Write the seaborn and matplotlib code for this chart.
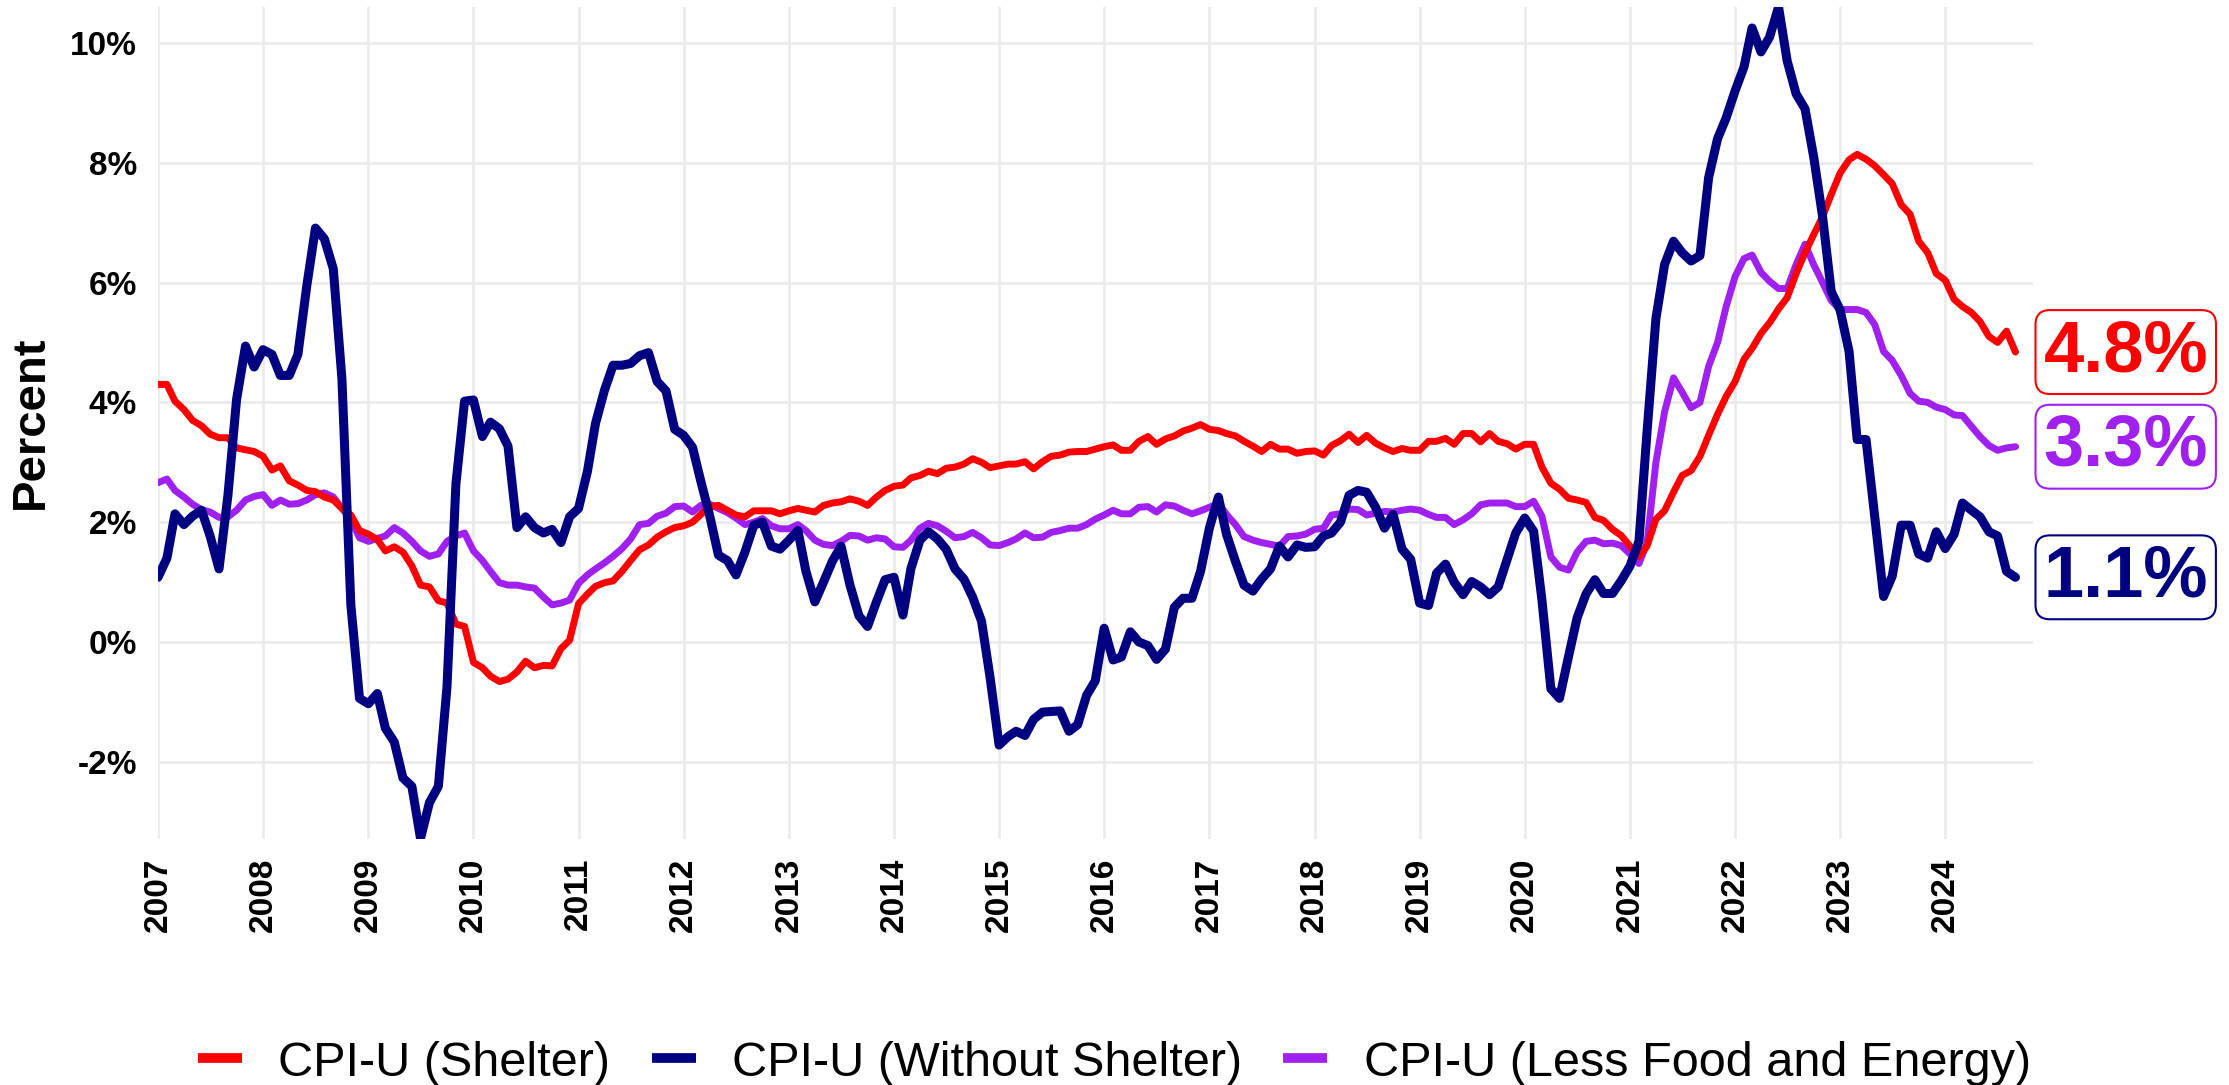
import pandas as pd
import matplotlib
matplotlib.use("Agg")
import matplotlib.pyplot as plt
import matplotlib.dates as mdates
import seaborn as sns

# Monthly year-over-year % change, Jan 2007 - Sep 2024
shelter = [
    4.30, 4.30, 4.02, 3.88, 3.70, 3.61, 3.47, 3.41, 3.41, 3.24, 3.21, 3.18,
    3.10, 2.87, 2.94, 2.69, 2.62, 2.53, 2.51, 2.42, 2.37, 2.23, 2.12, 1.86,
    1.80, 1.71, 1.52, 1.59, 1.50, 1.27, 0.95, 0.92, 0.69, 0.65, 0.30, 0.26,
    -0.34, -0.43, -0.57, -0.66, -0.62, -0.50, -0.32, -0.43, -0.39, -0.40, -0.11, 0.03,
    0.64, 0.80, 0.93, 0.99, 1.02, 1.18, 1.36, 1.54, 1.62, 1.75, 1.84, 1.91,
    1.94, 2.00, 2.13, 2.26, 2.28, 2.20, 2.12, 2.09, 2.19, 2.19, 2.19, 2.14,
    2.19, 2.23, 2.20, 2.17, 2.28, 2.32, 2.34, 2.39, 2.35, 2.28, 2.42, 2.53,
    2.60, 2.62, 2.74, 2.78, 2.85, 2.81, 2.90, 2.92, 2.97, 3.06, 3.00, 2.91,
    2.94, 2.97, 2.97, 3.01, 2.89, 3.01, 3.10, 3.12, 3.17, 3.18, 3.18, 3.22,
    3.26, 3.29, 3.20, 3.20, 3.35, 3.43, 3.30, 3.39, 3.44, 3.52, 3.57, 3.63,
    3.55, 3.53, 3.48, 3.44, 3.35, 3.27, 3.18, 3.30, 3.22, 3.22, 3.15, 3.18,
    3.19, 3.12, 3.28, 3.36, 3.47, 3.33, 3.45, 3.32, 3.24, 3.18, 3.23, 3.20,
    3.20, 3.35, 3.35, 3.40, 3.30, 3.48, 3.48, 3.34, 3.48, 3.35, 3.31, 3.22,
    3.30, 3.30, 2.92, 2.65, 2.55, 2.40, 2.37, 2.33, 2.08, 2.03, 1.88, 1.78,
    1.60, 1.43, 1.60, 2.05, 2.19, 2.50, 2.78, 2.86, 3.10, 3.45, 3.80, 4.10,
    4.35, 4.72, 4.90, 5.15, 5.33, 5.56, 5.75, 6.15, 6.50, 6.80, 7.10, 7.47,
    7.83, 8.05, 8.14, 8.06, 7.95, 7.80, 7.65, 7.30, 7.14, 6.69, 6.50, 6.15,
    6.04, 5.72, 5.60, 5.50, 5.35, 5.10, 5.00, 5.19, 4.84,
]

without_shelter = [
    1.08, 1.40, 2.14, 1.96, 2.10, 2.20, 1.77, 1.22, 2.45, 4.05, 4.94, 4.59,
    4.88, 4.80, 4.45, 4.45, 4.80, 5.95, 6.91, 6.73, 6.23, 4.39, 0.62, -0.94,
    -1.03, -0.86, -1.44, -1.67, -2.27, -2.41, -3.28, -2.68, -2.41, -0.75, 2.64, 4.02,
    4.04, 3.43, 3.67, 3.56, 3.27, 1.91, 2.09, 1.91, 1.82, 1.88, 1.66, 2.09,
    2.23, 2.85, 3.65, 4.20, 4.62, 4.62, 4.65, 4.78, 4.83, 4.35, 4.19, 3.55,
    3.45, 3.25, 2.68, 2.10, 1.45, 1.36, 1.12, 1.50, 1.95, 2.00, 1.60, 1.55,
    1.70, 1.86, 1.18, 0.67, 1.00, 1.35, 1.60, 0.95, 0.44, 0.26, 0.67, 1.04,
    1.08, 0.45, 1.23, 1.70, 1.84, 1.72, 1.55, 1.22, 1.05, 0.75, 0.35, -0.60,
    -1.72, -1.58, -1.49, -1.56, -1.29, -1.17, -1.16, -1.15, -1.49, -1.38, -0.89, -0.65,
    0.23, -0.30, -0.25, 0.17, 0.00, -0.06, -0.29, -0.12, 0.58, 0.73, 0.73, 1.18,
    1.91, 2.42, 1.80, 1.35, 0.95, 0.85, 1.05, 1.22, 1.60, 1.42, 1.62, 1.58,
    1.59, 1.77, 1.82, 2.00, 2.45, 2.53, 2.50, 2.25, 1.90, 2.13, 1.55, 1.38,
    0.65, 0.61, 1.15, 1.30, 1.00, 0.79, 1.01, 0.92, 0.79, 0.92, 1.38, 1.82,
    2.07, 1.85, 0.70, -0.78, -0.94, -0.25, 0.40, 0.80, 1.04, 0.81, 0.81, 1.02,
    1.27, 1.68, 3.50, 5.40, 6.30, 6.69, 6.50, 6.36, 6.45, 7.75, 8.40, 8.75,
    9.20, 9.60, 10.25, 9.85, 10.10, 10.60, 9.70, 9.15, 8.90, 8.10, 7.10, 5.85,
    5.54, 4.85, 3.38, 3.38, 2.10, 0.76, 1.10, 1.95, 1.95, 1.47, 1.40, 1.84,
    1.56, 1.80, 2.32, 2.20, 2.09, 1.84, 1.77, 1.18, 1.08,
]

less_food_energy = [
    2.66, 2.72, 2.53, 2.42, 2.30, 2.21, 2.17, 2.08, 2.09, 2.20, 2.37, 2.43,
    2.46, 2.28, 2.37, 2.30, 2.31, 2.37, 2.46, 2.49, 2.42, 2.23, 2.05, 1.74,
    1.68, 1.73, 1.77, 1.91, 1.82, 1.68, 1.52, 1.43, 1.47, 1.68, 1.77, 1.82,
    1.52, 1.36, 1.18, 0.99, 0.95, 0.95, 0.92, 0.90, 0.75, 0.62, 0.65, 0.70,
    0.98, 1.12, 1.22, 1.32, 1.43, 1.56, 1.72, 1.96, 1.98, 2.10, 2.15, 2.26,
    2.27, 2.17, 2.28, 2.30, 2.23, 2.16, 2.07, 1.96, 2.00, 2.06, 1.94, 1.89,
    1.89, 1.96, 1.86, 1.70, 1.63, 1.61, 1.68, 1.78, 1.77, 1.70, 1.74, 1.72,
    1.59, 1.58, 1.70, 1.90, 1.98, 1.94, 1.85, 1.74, 1.76, 1.83, 1.74, 1.62,
    1.61, 1.66, 1.72, 1.82, 1.74, 1.75, 1.83, 1.86, 1.90, 1.90, 1.96, 2.05,
    2.12, 2.20, 2.14, 2.14, 2.25, 2.26, 2.17, 2.29, 2.27, 2.20, 2.14, 2.19,
    2.25, 2.31, 2.13, 1.96, 1.76, 1.70, 1.66, 1.63, 1.60, 1.76, 1.77, 1.80,
    1.88, 1.90, 2.12, 2.14, 2.22, 2.21, 2.12, 2.15, 2.18, 2.17, 2.20, 2.22,
    2.20, 2.13, 2.08, 2.08, 1.96, 2.04, 2.14, 2.29, 2.32, 2.32, 2.32, 2.26,
    2.26, 2.35, 2.10, 1.42, 1.25, 1.20, 1.50, 1.68, 1.70, 1.64, 1.65, 1.61,
    1.47, 1.31, 1.65, 3.00, 3.84, 4.41, 4.17, 3.91, 4.00, 4.60, 5.00, 5.60,
    6.10, 6.40, 6.46, 6.17, 6.02, 5.90, 5.90, 6.30, 6.64, 6.30, 6.00, 5.70,
    5.55, 5.55, 5.55, 5.50, 5.30, 4.85, 4.70, 4.45, 4.15, 4.02, 4.00, 3.92,
    3.88, 3.79, 3.78, 3.60, 3.43, 3.28, 3.20, 3.24, 3.26,
]

dates = pd.date_range("2007-01-01", periods=len(shelter), freq="MS")

series_names = ["CPI-U (Shelter)", "CPI-U (Without Shelter)", "CPI-U (Less Food and Energy)"]
series_values = [shelter, without_shelter, less_food_energy]
series_colors = ["#FF0000", "#000080", "#A020F0"]
series_widths = [5.0, 6.5, 5.0]
draw_order = [2, 0, 1]  # purple first, navy on top

sns.set_style("whitegrid", {"grid.color": "#EBEBEB"})
plt.rcParams["font.family"] = ["Liberation Sans", "DejaVu Sans"]

W, H = 2229, 1085
fig = plt.figure(figsize=(W / 100, H / 100), dpi=100)
left, right, top, bottom = 158, 2033, 7, 838.5
ax = fig.add_axes([left / W, 1 - bottom / H, (right - left) / W, (bottom - top) / H])

for i in draw_order:
    sns.lineplot(x=dates, y=series_values[i], color=series_colors[i],
                 linewidth=series_widths[i], label=series_names[i], ax=ax)

all_vals = shelter + without_shelter + less_food_energy
ax.set_ylim(min(all_vals), max(all_vals))
ax.set_xlim(pd.Timestamp("2007-01-01"), pd.Timestamp("2024-11-01"))

ax.set_yticks(range(-2, 11, 2))
ax.set_yticklabels([f"{v}%" for v in range(-2, 11, 2)])
ax.xaxis.set_major_locator(mdates.YearLocator())
ax.xaxis.set_major_formatter(mdates.DateFormatter("%Y"))
ax.tick_params(axis="x", length=0, pad=14, labelsize=24, rotation=90, labelcolor="black")
ax.tick_params(axis="y", length=0, pad=15, labelsize=24, labelcolor="black")
for lab in ax.get_xticklabels() + ax.get_yticklabels():
    lab.set_fontweight("bold")
ax.grid(True, color="#EBEBEB", linewidth=2)
for s in ax.spines.values():
    s.set_visible(False)
ax.set_xlabel("")
ax.set_ylabel("")
fig.text(31 / W, 1 - 422 / H, "Percent", rotation=90, ha="center", va="center",
         fontsize=34, fontweight="bold", color="black")

# end-of-line value labels
for vals, col in zip(series_values, series_colors):
    ax.annotate(f"{vals[-1]:.1f}%", xy=(dates[-1], vals[-1]),
                xytext=(28, 0), textcoords="offset pixels",
                ha="left", va="center", fontsize=52, fontweight="bold", color=col,
                bbox=dict(boxstyle="round,pad=0.11,rounding_size=0.2", fc="white", ec=col, lw=1.5),
                arrowprops=dict(arrowstyle="-", color=col, lw=1.5, shrinkA=12, shrinkB=0),
                annotation_clip=False)

handles, labels = ax.get_legend_handles_labels()
ax.legend_.remove()
order = [labels.index(n) for n in series_names]
leg = fig.legend([handles[k] for k in order], [labels[k] for k in order],
                 loc="center", bbox_to_anchor=(0.5, 22 / H), ncol=3, frameon=False,
                 fontsize=35, handlelength=0.9, handletextpad=0.75, columnspacing=0.85,
                 labelcolor="black")
for h in leg.get_lines():
    h.set_linewidth(7)
    h.set_solid_capstyle("butt")

fig.savefig("out.png", dpi=100, facecolor="white")
